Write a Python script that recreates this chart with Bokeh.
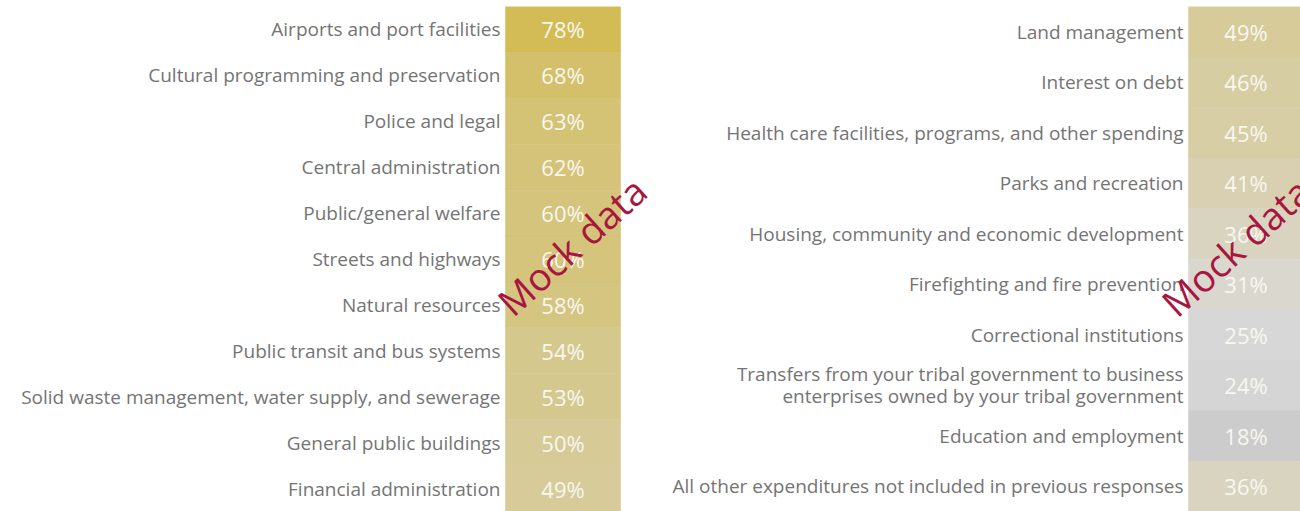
import numpy as np
from bokeh.plotting import figure
from bokeh.models import FactorRange, Range1d, ColumnDataSource, LinearColorMapper
from bokeh.transform import transform
from bokeh.core.properties import value
from bokeh.embed import file_html
from bokeh.resources import INLINE

# ---- data ----
left_categories = [
    "Airports and port facilities",
    "Cultural programming and preservation",
    "Police and legal",
    "Central administration",
    "Public/general welfare",
    "Streets and highways",
    "Natural resources",
    "Public transit and bus systems",
    "Solid waste management, water supply, and sewerage",
    "General public buildings",
    "Financial administration",
]
left_values = [78, 68, 63, 62, 60, 60, 58, 54, 53, 50, 49]

right_categories = [
    "Land management",
    "Interest on debt",
    "Health care facilities, programs, and other spending",
    "Parks and recreation",
    "Housing, community and economic development",
    "Firefighting and fire prevention",
    "Correctional institutions",
    "Transfers from your tribal government to business\nenterprises owned by your tribal government",
    "Education and employment",
    "All other expenditures not included in previous responses",
]
right_values = [49, 46, 45, 41, 36, 31, 25, 24, 18, 36]

# ---- colour scale (style) ----
stops = [(18, (204, 204, 204)), (27, (218, 218, 218)), (36, (217, 212, 191)),
         (49, (214, 203, 153)), (60, (212, 196, 124)), (78, (211, 188, 85))]
def build_palette(n=256):
    lo, hi = stops[0][0], stops[-1][0]
    xs = np.linspace(lo, hi, n)
    sv = [s[0] for s in stops]
    cols = []
    for x in xs:
        rgb = [np.interp(x, sv, [s[1][k] for s in stops]) for k in range(3)]
        cols.append("#%02x%02x%02x" % tuple(int(round(c)) for c in rgb))
    return cols
mapper = LinearColorMapper(palette=build_palette(), low=18, high=78)

FONT = value("Open Sans")
LABEL_COLOR = "#747474"
VALUE_COLOR = "#f8f7f0"
WM_COLOR = "#a8163f"

p = figure(width=1300, height=511,
           x_range=Range1d(0, 1300),
           y_range=FactorRange(*reversed(left_categories)),
           min_border_left=0, min_border_right=0,
           min_border_top=6, min_border_bottom=0,
           output_backend="svg", toolbar_location=None)
p.extra_y_ranges = {"r": FactorRange(*reversed(right_categories))}
p.axis.visible = False
p.grid.visible = False
p.outline_line_color = None

# panel layout: (label right edge, cell left, cell right)
panels = [
    (left_categories, left_values, "default", 500, 505, 620),
    (right_categories, right_values, "r", 1183, 1188, 1303),
]
for cats, vals, rng, lab_x, c0, c1 in panels:
    src = ColumnDataSource(dict(cat=cats, val=vals,
                                txt=["%d%%" % v for v in vals]))
    p.hbar(y="cat", left=c0, right=c1, height=1, source=src,
           fill_color=transform("val", mapper),
           line_color=transform("val", mapper), line_width=0.6,
           y_range_name=rng)
    p.text(x=(c0 + c1) / 2, y="cat", text="txt", source=src,
           text_align="center", text_baseline="middle",
           text_color=VALUE_COLOR, text_font=FONT,
           text_font_size="22px", y_range_name=rng)
    p.text(x=lab_x, y="cat", text="cat", source=src,
           text_align="right", text_baseline="middle",
           text_color=LABEL_COLOR, text_font=FONT,
           text_font_size="19px", text_line_height=0.85,
           y_range_name=rng)

# watermark
p.text(x=[571, 1235], y=[5.79, 5.77], text=["Mock data", "Mock data"],
       angle=np.deg2rad(42), text_align="center", text_baseline="middle",
       text_color=WM_COLOR, text_font=FONT, text_font_size="38px")

open("out.html", "w").write(file_html(p, INLINE))
